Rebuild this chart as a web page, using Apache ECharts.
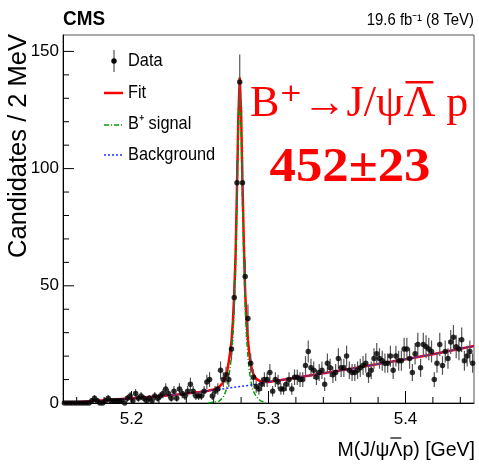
<!DOCTYPE html>
<html><head><meta charset="utf-8">
<script src="https://cdn.jsdelivr.net/npm/echarts@6/dist/echarts.min.js"></script>
<style>html,body{margin:0;padding:0;background:#fff}#c{width:479px;height:465px}</style>
</head><body><div id="c"></div>
<script>
// Histogram: 2 MeV bins from 5.15 to 5.45 GeV
const histMin = 5.15;
const binWidth = 0.002;
const counts = [
  0,0,0,0,0,0,0,0,0,0,
  1,2,1,0,0,1,2,1,1,1,
  1,1,0,2,3,1,4,2,3,2,
  1,2,1,3,2,3,4,6,4,2,
  5,2,6,4,3,5,8,5,3,3,
  3,5,9,10,3,5,6,14,10,12,
  10,23,45,94,137,94,54,36,17,11,
  7,6,8,10,10,13,5,10,9,6,
  6,8,10,6,11,11,10,10,16,22,
  15,14,11,13,14,8,17,15,12,13,
  19,15,15,20,14,13,13,14,15,16,
  17,12,14,19,21,19,18,17,17,20,
  14,20,18,18,23,23,19,13,21,25,
  15,25,24,23,22,10,17,25,16,22,
  19,26,28,24,23,27,18,20,22,17
];
// Fit curve
const fitX = [5.15,5.16,5.17,5.18,5.19,5.20,5.21,5.22,5.23,5.24,5.25,5.256,5.260,5.264,5.267,5.269,5.270,5.271,5.272,5.273,5.274,5.275,5.276,5.277,5.278,5.279,5.280,5.281,5.282,5.283,5.284,5.285,5.286,5.287,5.288,5.289,5.291,5.294,5.298,5.30,5.32,5.34,5.36,5.38,5.40,5.42,5.45];
const fitY = [0,0.3,0.8,1.2,1.6,2.0,2.5,2.9,3.4,4.0,4.7,5.2,5.8,6.9,8.8,11.6,14.1,17.7,21.6,26.6,34.6,46.7,63.8,91.9,122,139,124,94,68,47,35,27,21,17,14,12.3,10.3,9.3,9.0,9.0,10.8,12.7,14.6,16.6,18.7,20.8,24.3];
// B+ signal component
const sigX = [5.256,5.260,5.264,5.267,5.269,5.270,5.271,5.272,5.273,5.274,5.275,5.276,5.277,5.278,5.279,5.280,5.281,5.282,5.283,5.284,5.285,5.286,5.287,5.288,5.289,5.291,5.294,5.298];
const sigY = [0,0.3,0.8,2.5,5.3,7.8,11.3,15.2,20.1,28,40,57,85,115,132,117,87,61,40,28,19.8,13.8,9.7,6.7,5.0,2.8,1.0,0];
// Background component
const bgX = [5.15,5.16,5.17,5.18,5.19,5.20,5.21,5.22,5.23,5.24,5.25,5.26,5.27,5.28,5.29,5.30,5.32,5.34,5.36,5.38,5.40,5.42,5.45];
const bgY = [0,0.3,0.8,1.2,1.6,2.0,2.5,2.9,3.4,4.0,4.7,5.5,6.3,7.1,7.9,9.0,10.8,12.7,14.6,16.6,18.7,20.8,24.3];
// Axis ticks
const xMajorTicks = [5.2,5.3,5.4];
const xMinorTicks = [5.16,5.18,5.22,5.24,5.26,5.28,5.32,5.34,5.36,5.38,5.42,5.44];
const yMajorTicks = [0,50,100,150];
const yMinorTicks = [10,20,30,40,60,70,80,90,110,120,130,140];

const SANS = '"Liberation Sans",Arial,Helvetica,sans-serif';
const SERIF = '"Liberation Serif","DejaVu Serif",serif';

const pts = counts.map((c,i)=>[+(histMin + binWidth*(i+0.5)).toFixed(4), c]);
const errs = pts.map(p=>[p[0], p[1], Math.sqrt(p[1])]);
const pair = (xs,ys)=>xs.map((x,i)=>[x, ys[i]]);

const xTickData = xMajorTicks.map(v=>[v,1]).concat(xMinorTicks.map(v=>[v,0]));
const yTickData = yMajorTicks.map(v=>[v,1]).concat(yMinorTicks.map(v=>[v,0]));

// text measuring for overbars on Lambda
const mctx = document.createElement('canvas').getContext('2d');
function tw(text, font){ mctx.font = font; return mctx.measureText(text).width; }

const bigFont = '44px '+SERIF;
const bigX = 250;
const bigPre = 'B\u207A\u2192J/\u03C8';
const bigLamX = bigX + tw(bigPre, bigFont);
const bigLamW = tw('\u039B', bigFont);

const xtFont = '19.5px '+SANS;
const xtText = 'M(J/\u03C8\u039Bp) [GeV]';
const xtRight = 475;
const xtStart = xtRight - tw(xtText, xtFont);
const xtLamX = xtStart + tw('M(J/\u03C8', xtFont);
const xtLamW = tw('\u039B', xtFont);

const chart = echarts.init(document.getElementById('c'), null, {renderer:'canvas'});
chart.setOption({
  animation:false,
  backgroundColor:'#fff',
  grid:{left:63, right:5, top:35, bottom:62, show:true, borderColor:'#555', borderWidth:1},
  xAxis:{type:'value', min:5.15, max:5.45, interval:0.05,
    axisLine:{show:true, lineStyle:{color:'#000', width:1}}, axisTick:{show:false}, splitLine:{show:false},
    axisLabel:{margin:8, color:'#000', fontSize:17, fontFamily:SANS,
      formatter:v=>{const r=Math.round(v*10)/10; return (Math.abs(v-r)<1e-6 && r>5.15 && r<5.45)? r.toFixed(1):'';}}},
  yAxis:{type:'value', min:0, max:157, interval:50,
    axisLine:{show:true, lineStyle:{color:'#000', width:1}}, axisTick:{show:false}, splitLine:{show:false},
    axisLabel:{margin:4, color:'#000', fontSize:17, fontFamily:SANS, formatter:v=>(v%50===0? String(v):'')}},
  series:[
    {type:'line', data:pair(fitX,fitY), showSymbol:false, smooth:false, lineStyle:{color:'#ff0000', width:2.5}, z:2, silent:true},
    {type:'line', data:pair(sigX,sigY), showSymbol:false, smooth:false, lineStyle:{color:'#00a000', width:1.5, type:[5,2,1,2]}, z:3, silent:true},
    {type:'line', data:pair(bgX,bgY), showSymbol:false, smooth:false, lineStyle:{color:'#2233ff', width:1.5, type:[2,2]}, z:3, silent:true},
    {type:'custom', data:errs, z:4, clip:true, silent:true,
      renderItem:(params, api)=>{
        const x=api.value(0), y=api.value(1), e=api.value(2);
        if(!(e>0)) return null;
        const a=api.coord([x,y+e]), b=api.coord([x,Math.max(0,y-e)]);
        return {type:'line', shape:{x1:a[0],y1:a[1],x2:b[0],y2:b[1]}, style:{stroke:'#555', lineWidth:1.2}};
      }},
    {type:'scatter', data:pts, symbol:'circle', symbolSize:5.5, itemStyle:{color:'#000'}, z:5, silent:true},
    {type:'custom', data:xTickData, z:6, clip:false, silent:true,
      renderItem:(params, api)=>{
        const v=api.value(0), m=api.value(1);
        const p=api.coord([v,0]); const len = m? 12:6;
        return {type:'line', shape:{x1:p[0],y1:p[1],x2:p[0],y2:p[1]-len}, style:{stroke:'#000', lineWidth:1}};
      }},
    {type:'custom', data:yTickData, z:6, clip:false, silent:true,
      renderItem:(params, api)=>{
        const v=api.value(0), m=api.value(1);
        const p=api.coord([5.15,v]); const len = m? 11:6;
        return {type:'line', shape:{x1:p[0],y1:p[1],x2:p[0]+len,y2:p[1]}, style:{stroke:'#000', lineWidth:1}};
      }}
  ],
  graphic:[
    {type:'text', x:63, y:19, scaleX:0.9, style:{text:'CMS', font:'bold 21px '+SANS, fill:'#000', align:'left', verticalAlign:'middle'}},
    {type:'text', x:474, y:21, scaleX:0.93, style:{text:'19.6 fb\u207B\u00B9 (8 TeV)', font:'16px '+SANS, fill:'#000', align:'right', verticalAlign:'middle'}},
    {type:'text', x:19, y:34, rotation:Math.PI/2, style:{text:'Candidates / 2 MeV', font:'25.5px '+SANS, fill:'#000', align:'right', verticalAlign:'middle'}},
    {type:'text', x:xtRight, y:451, style:{text:xtText, font:xtFont, fill:'#000', align:'right', verticalAlign:'middle'}},
    {type:'line', shape:{x1:xtLamX+1, y1:438, x2:xtLamX+xtLamW-1, y2:438}, style:{stroke:'#000', lineWidth:1.2}},
    // legend
    {type:'line', shape:{x1:114,y1:50,x2:114,y2:72}, style:{stroke:'#333', lineWidth:1}},
    {type:'circle', shape:{cx:114, cy:61, r:2.7}, style:{fill:'#000'}},
    {type:'text', x:128, y:61, scaleX:0.86, style:{text:'Data', font:'19px '+SANS, fill:'#000', align:'left', verticalAlign:'middle'}},
    {type:'line', shape:{x1:104,y1:93,x2:123,y2:93}, style:{stroke:'#ff0000', lineWidth:2.5}},
    {type:'text', x:128, y:93, scaleX:0.86, style:{text:'Fit', font:'19px '+SANS, fill:'#000', align:'left', verticalAlign:'middle'}},
    {type:'line', shape:{x1:104,y1:125,x2:123,y2:125}, style:{stroke:'#00a000', lineWidth:1.5, lineDash:[5,2,1,2]}},
    {type:'text', x:128, y:124, scaleX:0.86, style:{text:'B\u207A signal', font:'19px '+SANS, fill:'#000', align:'left', verticalAlign:'middle'}},
    {type:'line', shape:{x1:104,y1:155,x2:123,y2:155}, style:{stroke:'#2233ff', lineWidth:1.5, lineDash:[2,2]}},
    {type:'text', x:128, y:155, scaleX:0.86, style:{text:'Background', font:'19px '+SANS, fill:'#000', align:'left', verticalAlign:'middle'}},
    // annotation
    {type:'text', x:bigX, y:104, style:{text:'B\u207A\u2192J/\u03C8\u039B p', font:bigFont, fill:'#ff0000', align:'left', verticalAlign:'middle'}},
    {type:'rect', shape:{x:bigLamX+2, y:81, width:bigLamW-4, height:2.5}, style:{fill:'#ff0000'}},
    {type:'text', x:350, y:169, scaleX:1.1, style:{text:'452\u00B123', font:'bold 48px '+SERIF, fill:'#ff0000', align:'center', verticalAlign:'middle'}}
  ]
});
</script>
</body></html>
